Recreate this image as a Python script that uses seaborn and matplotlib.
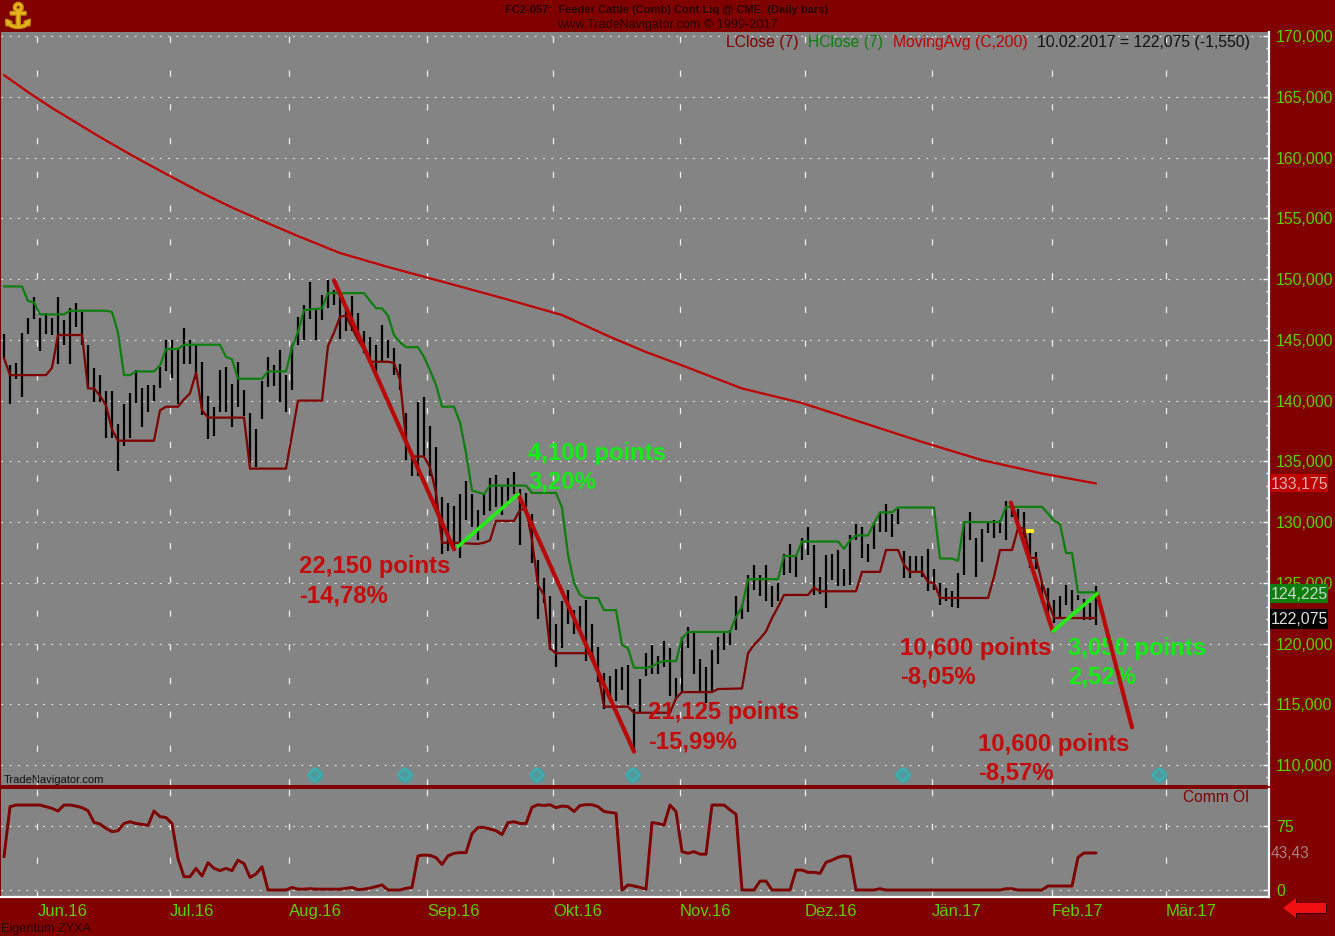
import matplotlib
matplotlib.use('Agg')
import matplotlib.pyplot as plt
import matplotlib.patheffects as pe
from matplotlib.patches import Polygon, Rectangle
from matplotlib.ticker import FuncFormatter, MultipleLocator
import seaborn as sns

# daily bars, prices in thousands, one value per trading day
high = [145.5, 142.9, 143.1, 145.6, 146.8, 148.5, 146.8, 147.2, 146.8, 148.5,
        146.6, 147.6, 148, 147.3, 144.6, 142.7, 142.1, 140.8, 140.8, 138.1,
        139.7, 140.6, 142.5, 141, 141.3, 141.3, 142.8, 145, 145, 144.3,
        146, 145, 144.6, 143.2, 140.4, 139.5, 142.5, 142.8, 141.4, 143.2,
        140.9, 139, 137.7, 141.6, 143.6, 142.9, 144.2, 142.1, 144.6, 146.9,
        147.9, 149.8, 147.5, 148.7, 149.9, 149.1, 148.6, 147.6, 148.6, 147.2,
        145.7, 145.2, 144.6, 146.2, 145, 144.3, 143, 139, 135.4, 139.9,
        140.3, 137.9, 136.2, 132.1, 131.6, 131.3, 132.3, 133.4, 132.3, 131,
        132.3, 133.6, 133.9, 132.9, 133.6, 134.1, 132.7, 132.4, 130.7, 126.9,
        125.4, 123.9, 121.6, 123.5, 124.4, 122.8, 123.1, 123.6, 121.6, 119.7,
        117.6, 117.3, 117.9, 118.1, 118.2, 114.6, 117.1, 119.2, 119.9, 119,
        120.2, 119.6, 117.2, 120.5, 121.4, 120.9, 118.7, 118.1, 119.5, 120.5,
        121, 121.1, 123.9, 123.2, 125.6, 126.5, 125.6, 126.5, 124.7, 125,
        127.4, 128.2, 127.2, 128.7, 129.6, 128.1, 125.5, 127.3, 127.4, 127.7,
        126.1, 128.9, 129.8, 129.6, 128.2, 129.9, 130.8, 131.5, 130.7, 131.1,
        127.6, 127.2, 127.2, 127.2, 127.8, 126.1, 125, 124.6, 124.3, 125.8,
        130, 130.8, 128.7, 129.4, 129.9, 130.2, 130.2, 131.7, 131.4, 131.1,
        130.8, 129.2, 127.5, 125.1, 124.6, 123.6, 123.9, 124.8, 124.4, 124,
        123.7, 123.3, 124.7]
low = [143.5, 139.7, 141.8, 140.3, 145.5, 146.7, 144.1, 145.5, 145.4, 143,
       144.6, 143, 146.1, 144.6, 141, 139.9, 139.9, 136.9, 136.9, 134.2,
       136.3, 136.9, 139.8, 137.8, 139.1, 140, 141, 142.4, 141.9, 139.7,
       143, 143, 141.8, 138.8, 136.8, 137.1, 139.1, 139.1, 137.8, 139.5,
       138.7, 134.9, 134.5, 138.5, 141.1, 141.2, 139.9, 139.1, 140.9, 144.6,
       145, 146.7, 145, 146.6, 147.6, 147.9, 145.1, 145.7, 145.7, 145.1,
       143.9, 143.2, 142.4, 143.2, 143.5, 142.1, 140.9, 135.1, 133.8, 133.8,
       135.4, 133.8, 131.3, 127.4, 127.6, 127.6, 127, 130.2, 129.6, 128.5,
       130.6, 130.9, 131.2, 130.6, 131.4, 132.3, 128.1, 131.2, 126.6, 122,
       123.3, 119.5, 118.1, 119.6, 121.6, 120.8, 121.3, 118.6, 118.8, 116.8,
       114.6, 115.5, 115.3, 116.2, 114.9, 111, 114.3, 117.3, 117.5, 117.5,
       118.1, 115.7, 115.5, 116, 119.6, 117.5, 116.1, 115.1, 116.1, 118.3,
       119.5, 119.9, 121.1, 122, 122.6, 124.4, 123.9, 123.5, 123, 123.5,
       125.6, 125.8, 125.5, 126.9, 127.3, 124, 124.1, 122.9, 125.2, 124.7,
       124.7, 124.8, 128.5, 127, 126.7, 127.8, 129.2, 129.2, 128.8, 129.8,
       125.4, 125.4, 125.9, 125.5, 124.3, 124.4, 123.2, 123.5, 123, 122.9,
       125.6, 128.5, 125.5, 126.7, 129.1, 128.7, 129.1, 128.5, 130.4, 129.2,
       128.7, 126.2, 126.1, 123.3, 122.4, 121.7, 122.1, 123.2, 122.7, 123.6,
       121.9, 121.9, 121.5]

# indicator lines, bar number and value at each corner of the line
hclose_day = [0, 3, 4, 5, 6, 10, 11, 17, 18, 19, 20, 21, 22, 25, 26, 27, 29, 30, 36, 37, 38, 39, 43, 44, 47,
              48, 49, 50, 53, 54, 60, 62, 63, 64, 65, 66, 67, 69, 70, 71, 72, 73, 75, 76, 77, 78, 80, 81, 87,
              88, 92, 93, 94, 95, 96, 97, 99, 100, 102, 103, 104, 105, 107, 108, 109, 110, 112, 113, 114, 121,
              122, 123, 124, 129, 130, 132, 133, 139, 140, 141, 142, 144, 145, 146, 148, 149, 155, 156, 158,
              159, 160, 166, 167, 173, 174, 175, 176, 177, 178, 179, 182]
hclose_val = [149.4, 149.4, 148.2, 148.1, 147.1, 147.1, 147.4, 147.4, 147.3, 145.6, 142.1, 142.1, 142.4, 142.4,
              142.9, 144.25, 144.25, 144.6, 144.6, 143.6, 143.4, 141.8, 141.8, 142.4, 142.4,
              144.4, 145.65, 147.45, 147.6, 148.85, 148.85, 147.6, 147.6, 147, 145.4, 144.8, 144.4, 144.4, 143.6,
              142.5, 141.3, 139.5, 139.5, 138.2, 135.7, 132.6, 132.3, 133, 133,
              132.4, 132.4, 131.2, 127.3, 125, 124, 123.75, 123.75, 122.75, 122.75, 119.9, 119.6, 118, 118, 118.1,
              118.4, 118.55, 118.55, 120.4, 120.95, 120.95,
              122.2, 123, 125.3, 125.3, 127.2, 127.2, 128.4, 128.4, 127.8, 128.5, 128.9, 128.9, 129.9, 130.8, 130.8,
              131.2, 131.2, 127, 127,
              126.8, 130, 130, 131.25, 131.25, 130.7, 130.1, 129.85, 127.45, 127.45, 124.2, 124.225]
lclose_day = [0, 1, 7, 8, 9, 13, 14, 15, 16, 17, 18, 19, 25, 26, 27, 29, 30, 31, 32, 33, 34, 40, 41, 47, 48, 49, 53,
              54, 55, 56, 57, 58, 59, 60, 61, 64, 65, 66, 67, 68, 70, 71, 72, 73, 75, 79, 80, 81, 82, 85, 86, 87,
              88, 89, 90, 91, 92, 98, 99, 100, 104, 105, 111, 112, 113, 118, 119, 123, 124, 125, 126, 127, 128, 129,
              130, 134, 135, 136, 142, 143, 146, 147, 149, 150, 151, 153, 154, 155, 156, 164, 165, 166, 168, 169,
              170, 171, 172, 173, 174, 175, 182]
lclose_val = [143.5, 142.1, 142.1, 142.7, 145.4, 145.4, 141, 141, 140.4, 139.6, 137.6, 136.7, 136.7, 139.2, 139.5,
              139.5, 140.1, 140.6, 142.3, 139.2, 138.6, 138.6, 134.4, 134.4, 137.2, 140, 140,
              144.5, 145.6, 146.9, 147, 146, 145, 144.2, 143.2, 143.2, 143.1, 141.7, 136.8, 135.4, 135.4, 134.5,
              132.4, 128.3, 128.3, 128.2, 128.3, 128.5, 130.1, 130.1, 131, 131.1,
              128.5, 124.8, 124, 119.6, 119.2, 119.2, 117.6, 114.8, 114.8, 114.3, 114.3, 115.5, 116, 116, 116.25,
              116.3, 119.2, 119.9, 120.4, 121, 122.1, 123,
              124, 124, 124.6, 124.3, 124.3, 125.9, 125.9, 127.7, 127.7, 126.5, 125.9, 125.9, 125.05, 125, 123.75,
              123.75, 125.5, 127.7, 127.7, 129.5,
              129.5, 127.05, 127.05, 125, 123.5, 122.1, 122.1]
ma_day = [0, 4, 8, 12, 16, 22, 28, 33, 38, 44, 49, 56, 64, 73, 83, 93, 101, 107, 113, 123, 133, 143, 153, 163, 173, 182]
ma_val = [166.8, 165.4, 164.1, 162.9, 161.7, 160, 158.4, 157.1, 155.9, 154.6, 153.55, 152.15, 151, 149.8, 148.45,
          147.05, 145.25, 144, 142.9, 141, 139.8, 138.2, 136.6, 135.1, 134, 133.175]

# commercial open interest index, one value per bar
comm_oi = [39, 97.6, 99.6, 99.6, 99.6, 99.6, 99.6, 97.6, 95.7, 92.6,
           99.6, 99.6, 98.4, 96.5, 93, 79.3, 77.3, 72.3, 68.4, 69.5,
           78.1, 80, 78, 77, 75.8, 92.6, 86, 85, 78, 37,
           15.6, 15.6, 25.4, 16.4, 32, 25.4, 22.7, 25.4, 22.7, 35,
           31, 14.8, 18.8, 27.3, 0, 0, 0, 0, 3, 1,
           1, 1.5, 1, 1, 1, 1, 1, 2, 3, 0.5,
           1, 2.3, 4, 6, 0, 0, 0, 2, 3, 40,
           41, 40.6, 38, 30, 40, 43, 43.8, 43.8, 66, 73.4,
           73.4, 71.5, 69.5, 65, 79, 80, 78, 78, 97, 100,
           99, 100, 96.5, 98.4, 97.7, 92, 99, 100, 100, 97.7,
           92, 91, 90, 0, 6, 4.7, 3, 1, 79, 78,
           76, 99.6, 92, 45, 43, 45, 42, 42, 99.6, 99.6,
           99.6, 94, 88.7, 0, 0, 0, 10.5, 10.5, 0, 0,
           0, 0, 23.4, 23.4, 20.7, 20.7, 19.5, 32.4, 35, 38.3,
           40, 39, 0, 0, 0, 0, 1.5, 0, 0, 0,
           0, 0, 0, 0, 0, 0, 0, 0, 0, 0,
           0, 0, 0, 0, 0, 0, 0, 1.5, 1.5, 0,
           0, 0, 0, 0, 4.7, 4.7, 4.7, 4.7, 4.7, 38.3,
           43.4, 43.4, 43.43]

# trend lines drawn on the chart
trend_red = [([55, 75], [149.9, 127.75]), ([85.7, 105], [132.3, 111.1]),
             ([167.8, 174.8], [131.6, 121]), ([182.2, 188], [124.1, 113.1])]
trend_green = [([75.7, 85.7], [128, 132.3]), ([174.8, 182.2], [121, 124.1])]

month_pos = [5.58, 27.67, 47.5, 70.5, 91.5, 112.67, 133.5, 154.67, 174.67, 193.67]
month_labels = ['Jun.16', 'Jul.16', 'Aug.16', 'Sep.16', 'Okt.16', 'Nov.16', 'Dez.16', 'Jän.17', 'Feb.17', 'Mär.17']
event_days = [51.8, 66.8, 88.8, 104.8, 149.8, 192.5]

W, H = 1335, 936
BG = '#800000'
PANEL = '#848484'
TICK = '#5CD000'
RED = '#C40A0A'
GREEN = '#12EE12'

sns.set_theme(style='white', rc={'axes.facecolor': PANEL, 'figure.facecolor': BG})
plt.rcParams['font.family'] = ['Liberation Sans', 'DejaVu Sans']


def fx(x):
    return x / W


def fy(y):
    return 1 - y / H


def draw(ax, x, y, color, lw, z=3):
    sns.lineplot(x=x, y=y, ax=ax, color=color, linewidth=lw, estimator=None, sort=False,
                 legend=False, zorder=z, solid_joinstyle='round')


def style_grid(ax):
    ax.grid(True, which='major', axis='y', color='#F0F0F0', linewidth=0.8, linestyle=(0, (1.5, 6)))
    ax.grid(True, which='major', axis='x', color='#F0F0F0', linewidth=0.9, linestyle=(0, (5, 22)))
    ax.set_axisbelow(True)
    for s in ['top', 'left', 'bottom']:
        ax.spines[s].set_visible(False)
    ax.spines['right'].set_color('white')
    ax.spines['right'].set_linewidth(1.6)
    ax.yaxis.tick_right()


fig = plt.figure(figsize=(W / 100, H / 100), dpi=100)
ax = fig.add_axes([fx(1), fy(785), fx(1268), (785 - 32) / H])
ax2 = fig.add_axes([fx(1), fy(897), fx(1268), (897 - 789) / H])

# price panel
ax.vlines(range(len(high)), low, high, color='black', linewidth=1.6, zorder=2)
draw(ax, ma_day, ma_val, '#C00000', 1.6)
draw(ax, lclose_day, lclose_val, '#7E0000', 1.6)
draw(ax, hclose_day, hclose_val, '#0E7E0E', 1.6)
for xs, ys in trend_red:
    draw(ax, xs, ys, '#B80808', 3.0, z=6)
for xs, ys in trend_green:
    draw(ax, xs, ys, '#22EE11', 2.6, z=6)

ax.scatter(event_days, [109.2] * len(event_days), s=130, color='#4F9A9C', zorder=2, linewidths=0)
ax.scatter(event_days, [109.2] * len(event_days), s=45, marker='D', facecolor='none',
           edgecolor='#38B8BC', zorder=2, linewidths=1)
ax.scatter([170.67, 171.33], [129.25, 129.25], s=6, marker='s', color='#FFEE22', zorder=7, linewidths=0)

ax.set_xlim(-0.5, 210.83)
ax.set_ylim(108.35, 170.35)
ax.set_xlabel('')
ax.set_ylabel('')
ax.set_xticks(month_pos)
ax.set_xticklabels([])
ax.yaxis.set_major_locator(MultipleLocator(5))
ax.yaxis.set_minor_locator(MultipleLocator(1))
ax.yaxis.set_major_formatter(FuncFormatter(lambda v, p: f'{int(v)},000'))
style_grid(ax)
ax.tick_params(axis='x', length=0)
ax.tick_params(axis='y', which='major', direction='in', length=4, width=1, color='white', pad=5,
               labelcolor=TICK, labelsize=11.4)
ax.tick_params(axis='y', which='minor', direction='in', length=2.5, width=1, color='white')

# oi panel
draw(ax2, list(range(len(comm_oi))), comm_oi, '#7E0000', 2.1)
ax2.set_xlim(-0.5, 210.83)
ax2.set_ylim(-8.2, 118.4)
ax2.set_xlabel('')
ax2.set_ylabel('')
ax2.set_xticks(month_pos)
ax2.set_xticklabels(month_labels, ha='left', color=TICK, fontsize=12)
ax2.set_yticks([0, 75])
ax2.set_yticklabels(['0', '75'], color=TICK, fontsize=11.4)
style_grid(ax2)
ax2.spines['bottom'].set_visible(True)
ax2.spines['bottom'].set_color('white')
ax2.spines['bottom'].set_linewidth(1.6)
ax2.tick_params(axis='x', length=0, pad=5)
ax2.tick_params(axis='y', direction='in', length=4, width=1, color='white', pad=5)

# move/gain labels on the chart
notes = [(299, 567, '22,150 points', RED), (299, 596, '-14,78%', RED),
         (528, 453, '4,100 points', GREEN), (528, 482, '3,20%', GREEN),
         (648, 713, '21,125 points', RED), (648, 742, '-15,99%', RED),
         (900, 648, '10,600 points', RED), (900, 677, '-8,05%', RED),
         (1068, 648, '3,050 points', GREEN), (1068, 677, '2,52%', GREEN),
         (978, 744, '10,600 points', RED), (978, 773, '-8,57%', RED)]
for x, y, s, c in notes:
    ax.text(fx(x), fy(y), s, transform=fig.transFigure, color=c, fontsize=17.2, fontweight='bold',
            va='center', ha='left', zorder=5)

# header and legend
fig.text(fx(667), fy(10), 'FC2-057:  Feeder Cattle (Comb) Cont Liq @ CME  (Daily bars)', color='#2A0000',
         fontsize=8, fontweight='bold', ha='center', va='center')
fig.text(fx(667), fy(25), 'www.TradeNavigator.com © 1999-2017', color='#2A0000', fontsize=9.1,
         ha='center', va='center')
legend = [(726, 'LClose (7)', '#7E0000'), (808, 'HClose (7)', '#0E7E0E'), (893, 'MovingAvg (C,200)', '#C00000'),
          (1037, '10.02.2017 = 122,075 (-1,550)', '#101010')]
for x, s, c in legend:
    ax.text(fx(x), fy(42), s, transform=fig.transFigure, color=c, fontsize=11.3, va='center', ha='left', zorder=8)

ax.text(fx(4), fy(780), 'TradeNavigator.com', transform=fig.transFigure, color='#101010', fontsize=8.0,
        va='center', ha='left', zorder=8)
ax2.text(fx(1183), fy(798), 'Comm OI', transform=fig.transFigure, color='#7E0000', fontsize=11.2,
         va='center', ha='left', zorder=8)
fig.text(fx(1), fy(929), 'Eigentum ZYXA', color='#2A0000', fontsize=9.1, va='center', ha='left')
fig.text(fx(1271), fy(854), '43,43', color='#A88080', fontsize=11.2, va='center', ha='left')

# last value badges on the price scale
badges = [(474, 492, '133,175', '#C00000', '#D8B0B0'), (584, 603, '124,225', '#0E7E0E', '#C8D8C8'),
          (609, 629, '122,075', '#000000', '#E0E0E0')]
for top, bottom, s, bg, fg in badges:
    fig.add_artist(Rectangle((fx(1270), fy(bottom)), 58 / W, (bottom - top) / H, transform=fig.transFigure,
                             facecolor=bg, edgecolor='none', zorder=5))
    fig.text(fx(1299), fy((top + bottom) / 2 + 1), s, color=fg, fontsize=11.4, ha='center', va='center', zorder=6)

# logo and red arrow
fig.text(fx(18), fy(18), '⚓', color='#E8B820', fontsize=24, ha='center', va='center', family='DejaVu Sans',
         path_effects=[pe.withStroke(linewidth=2, foreground='#C89010')])
arrow = [(1283, 908), (1296, 898), (1296, 903), (1326, 903), (1326, 913), (1296, 913), (1296, 918)]
fig.add_artist(Polygon([(fx(x + 1), fy(y + 1)) for x, y in arrow], transform=fig.transFigure,
                       facecolor='#300000', edgecolor='none'))
fig.add_artist(Polygon([(fx(x), fy(y)) for x, y in arrow], transform=fig.transFigure,
                       facecolor='#F01010', edgecolor='none'))

fig.savefig('out.png', dpi=100)
